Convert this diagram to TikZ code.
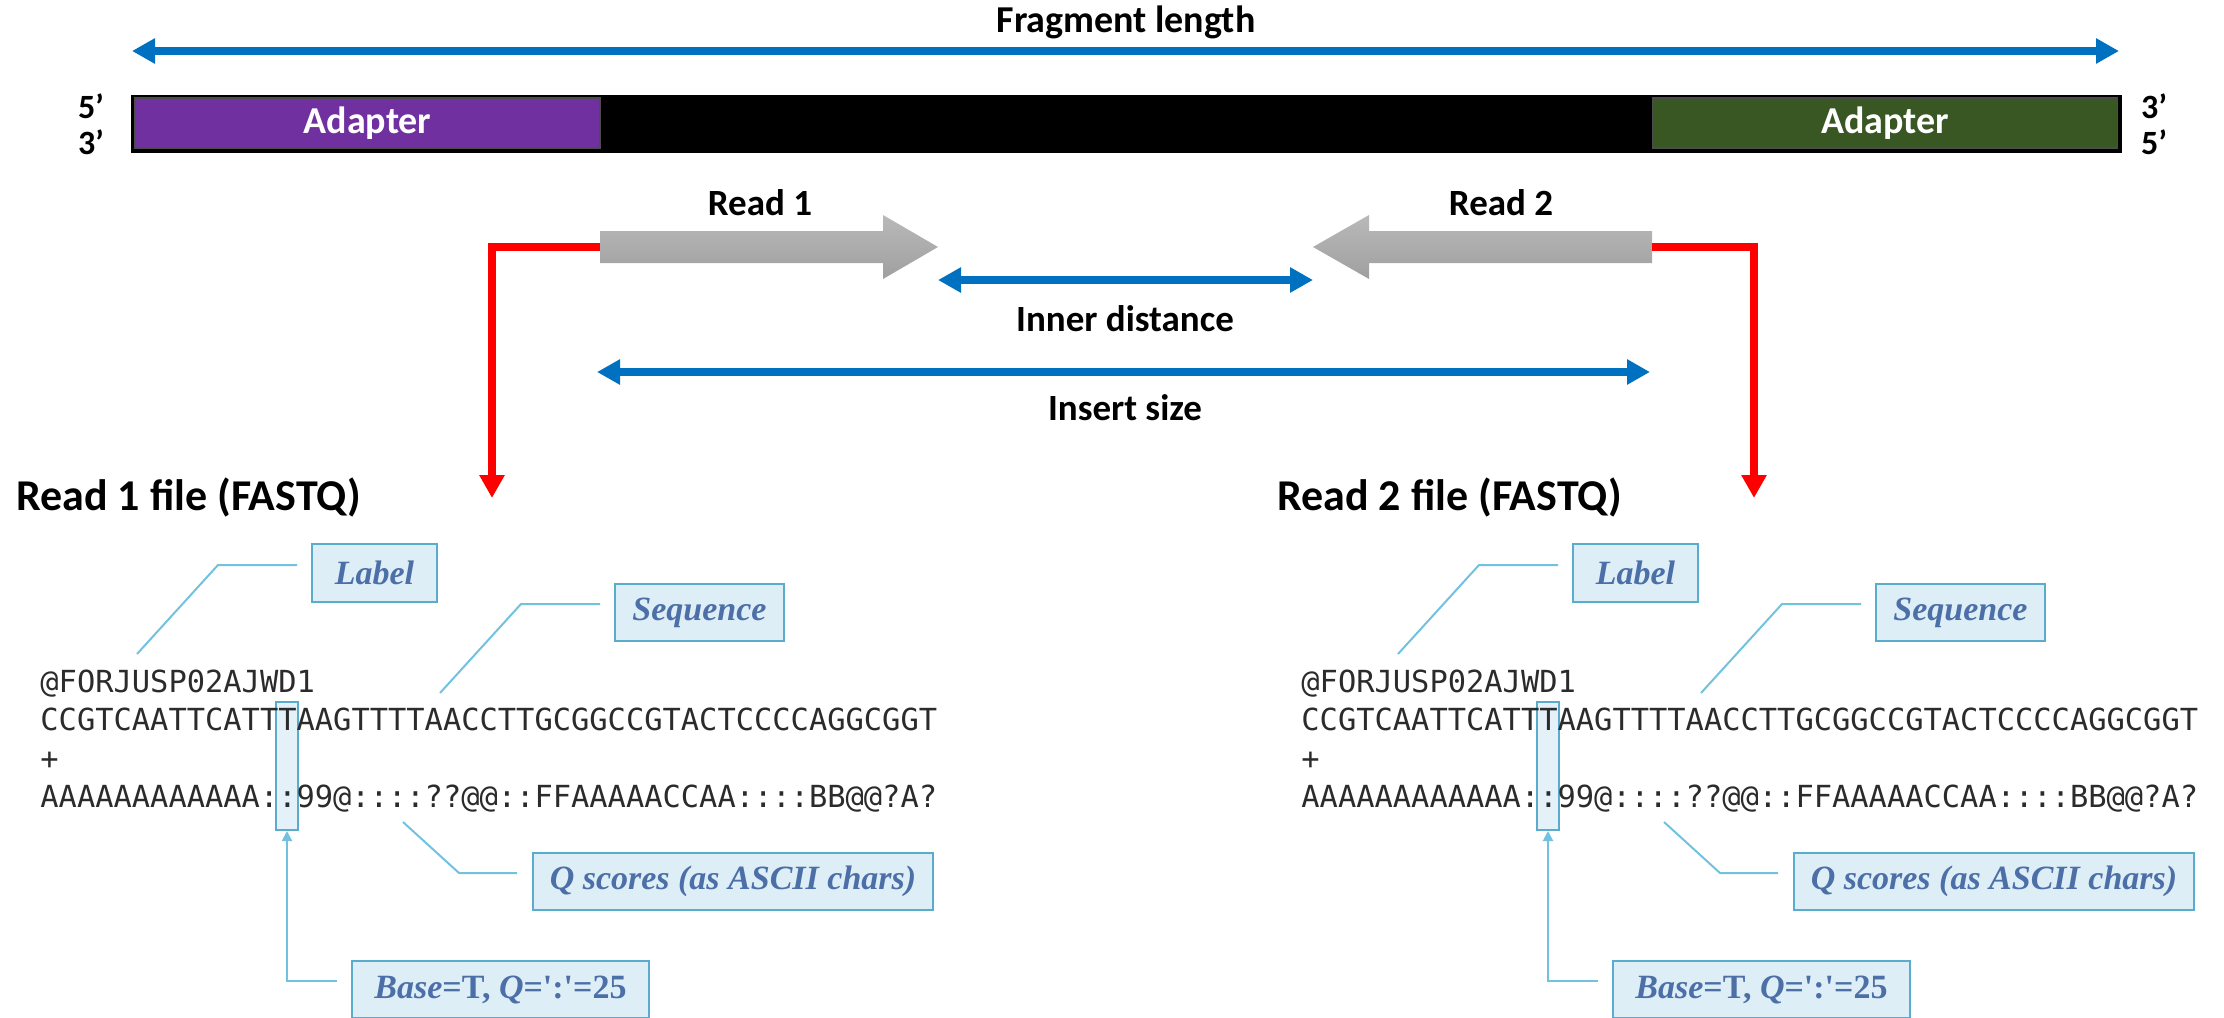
\documentclass[tikz,border=0pt]{standalone}
\usepackage{fontspec}
\setmainfont{Carlito}
\newfontfamily\seqfont{DejaVu Sans Mono}
\newfontfamily\notefont{Liberation Serif}
\usetikzlibrary{arrows.meta}

\definecolor{arrowblue}{HTML}{0070C0}
\definecolor{adpurple}{HTML}{7030A0}
\definecolor{adgreen}{HTML}{385723}
\definecolor{notefill}{HTML}{DDEEF7}
\definecolor{noteline}{HTML}{5AACCD}
\definecolor{notetext}{HTML}{4C6FA8}
\definecolor{leadcol}{HTML}{72C2DF}
\definecolor{seqgray}{HTML}{2B2B2B}

\tikzset{
  bluearrow/.style={arrowblue, line width=3.75pt,
    {Triangle[length=11.5pt,width=12pt]}-{Triangle[length=11.5pt,width=12pt]}},
  redline/.style={red, line width=3.75pt, -{Triangle[length=11.5pt,width=12pt]}},
  leader/.style={leadcol, line width=1pt},
  boldtxt/.style={inner sep=0pt, font=\bfseries\fontsize{#1}{#1}\selectfont},
  adbox/.style={draw=black!70, line width=0.6pt, text=white, inner sep=0pt,
    minimum width=232.5pt, minimum height=25pt, font=\bfseries\fontsize{19}{19}\selectfont},
  seqtxt/.style={anchor=base west, inner sep=0pt, text=seqgray,
    font=\seqfont\fontsize{15.2}{18}\selectfont},
  qbox/.style={draw=noteline, fill=notefill, line width=1pt, text=notetext, inner sep=0pt,
    minimum height=28.75pt, font=\notefont\bfseries\itshape\fontsize{17}{20}\selectfont},
  hlbox/.style={draw=noteline, fill=notefill, fill opacity=0.8, line width=1pt,
    minimum width=11pt, minimum height=64pt, inner sep=0pt},
}

\begin{document}
\begin{tikzpicture}[x=0.5pt, y=-0.5pt]
  \useasboundingbox (0,0) rectangle (2224,1018);

  % fragment and its length
  \node[boldtxt=19] (frag) at (1126,22) {Fragment length};
  \coordinate (fragL) at (132,51);
  \coordinate (fragR) at (2119,51);
  \draw[bluearrow] (fragL) -- (fragR);

  \filldraw[black] (131,95) rectangle (2121,152);
  \node[adbox, fill=adpurple] (adapt1) at (367.5,123) {Adapter};
  \node[adbox, fill=adgreen] (adapt2) at (1885,123) {Adapter};
  \node[boldtxt=17] (end5L) at (91,106) {5’};
  \node[boldtxt=17] (end3L) at (91,142) {3’};
  \node[boldtxt=17] (end3R) at (2154,106) {3’};
  \node[boldtxt=17] (end5R) at (2154,142) {5’};

  % the two reads
  \shade[top color=gray!55, bottom color=gray!75] (600,231) -- (883,231) -- (883,215) -- (938,247)
    -- (883,279) -- (883,263) -- (600,263) -- cycle;
  \shade[top color=gray!55, bottom color=gray!75] (1652,231) -- (1369,231) -- (1369,215) -- (1313,247)
    -- (1369,279) -- (1369,263) -- (1652,263) -- cycle;
  \node[boldtxt=18.5] (read1) at (760,203) {Read 1};
  \node[boldtxt=18.5] (read2) at (1501,203) {Read 2};
  \coordinate (tail1) at (600,247);
  \coordinate (tail2) at (1652,247);
  \coordinate (tip1) at (938,280);
  \coordinate (tip2) at (1313,280);
  \coordinate (ins1) at (597,372);
  \coordinate (ins2) at (1650,372);

  \draw[bluearrow] (tip1) -- (tip2);
  \node[boldtxt=18.5] (inner) at (1125,319) {Inner distance};
  \draw[bluearrow] (ins1) -- (ins2);
  \node[boldtxt=18.5] (insert) at (1125,408) {Insert size};

  \coordinate (drop1) at (492,498);
  \coordinate (drop2) at (1754,498);
  \draw[redline] (tail1) -| (drop1);
  \draw[redline] (tail2) -| (drop2);

  % FASTQ records
  \foreach \p/\dx in {1/0, 2/1261}{
    \begin{scope}[shift={(\dx,0)}]
      \node[boldtxt=22, anchor=west] (file\p) at (16,497) {Read \p\ file (FASTQ)};
      \node[hlbox] (hl\p) at (287,766) {};
      \node[seqtxt] (head\p) at (40,692) {@FORJUSP02AJWD1};
      \node[seqtxt] (seq\p) at (40,730) {CCGTCAATTCATTTAAGTTTTAACCTTGCGGCCGTACTCCCCAGGCGGT};
      \node[seqtxt] (plus\p) at (40,769) {+};
      \node[seqtxt] (qual\p) at (40,807) {AAAAAAAAAAAA::99@::::??@@::FFAAAAACCAA::::BB@@?A?};

      \node[qbox, minimum width=62.5pt] (lab\p) at (374.5,573) {Label};
      \node[qbox, minimum width=84.5pt] (sqn\p) at (699.5,612.5) {Sequence};
      \node[qbox, minimum width=200pt] (qsc\p) at (733,881.5) {Q scores (as ASCII chars)};
      \node[qbox, minimum width=148.5pt] (base\p) at (500.5,989.5)
        {Base\upshape=T, \itshape Q\upshape=\textquotesingle:\textquotesingle=25};

      \coordinate (labEnd\p) at (137,654);
      \coordinate (sqnEnd\p) at (440,693);
      \coordinate (qscEnd\p) at (403,822);
      \draw[leader] ([shift={(-14,-8)}]lab\p.west) -- ++(-79,0) -- (labEnd\p);
      \draw[leader] ([shift={(-14,-8.5)}]sqn\p.west) -- ++(-79,0) -- (sqnEnd\p);
      \draw[leader] ([shift={(-15,-8.5)}]qsc\p.west) -- ++(-58,0) -- (qscEnd\p);
      \draw[leader, -{Triangle[length=5pt,width=5pt]}] ([shift={(-14,-8.5)}]base\p.west) -| (hl\p.south);
    \end{scope}
  }
\end{tikzpicture}
\end{document}
